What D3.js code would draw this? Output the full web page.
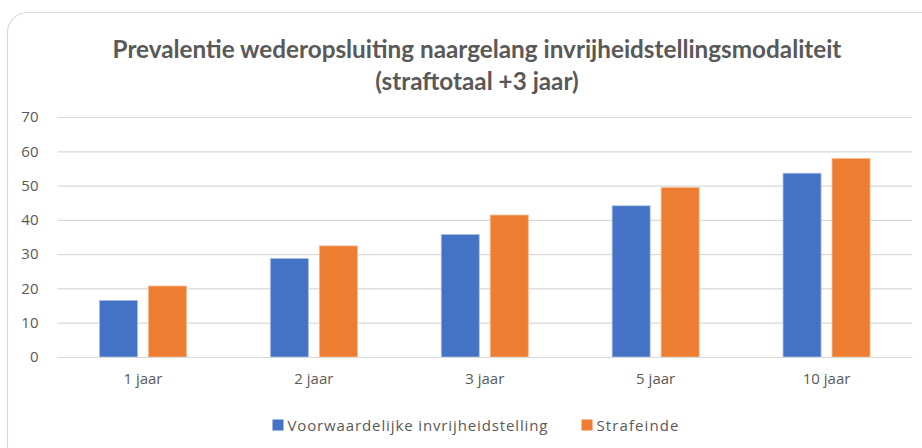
<!DOCTYPE html>
<html>
<head>
<meta charset="utf-8">
<script src="https://cdn.jsdelivr.net/npm/d3@7"></script>
<style>
  html, body { margin: 0; padding: 0; background: #ffffff; }
  svg { display: block; }
</style>
</head>
<body>
<script>
const categories = ["1 jaar", "2 jaar", "3 jaar", "5 jaar", "10 jaar"];
const seriesNames = ["Voorwaardelijke invrijheidstelling", "Strafeinde"];
const voorwaardelijk = [16.5, 28.7, 35.7, 44.1, 53.6];
const strafeinde = [20.7, 32.4, 41.4, 49.4, 57.9];
const yTicks = [0, 10, 20, 30, 40, 50, 60, 70];
const titleLines = ["Prevalentie wederopsluiting naargelang invrijheidstellingsmodaliteit", "(straftotaal +3 jaar)"];
const colors = ["#4472C4", "#ED7D31"];

const W = 922, H = 448;
const svg = d3.select("body").append("svg").attr("width", W).attr("height", H);

// chart frame
svg.append("rect").attr("x", 7.5).attr("y", 12.5).attr("width", 940).attr("height", 460)
  .attr("rx", 20).attr("fill", "#fff").attr("stroke", "#d9d9d9").attr("stroke-width", 1.2);

const textColor = "#595959";
const labelFont = "'Open Sans', 'Noto Sans', sans-serif";

// title
const titleY = [48, 80];
let titleFs = 20;
titleLines.forEach((t, i) => {
  const el = svg.append("text").attr("x", 477).attr("y", titleY[i]).attr("text-anchor", "middle")
    .attr("dominant-baseline", "central")
    .attr("font-family", "Lato, 'Open Sans', sans-serif").attr("font-weight", "bold")
    .attr("font-size", 20).attr("fill", textColor).text(t);
  if (i === 0) {
    const w = el.node().getComputedTextLength();
    titleFs = 20 * 729 / w;
  }
  el.attr("font-size", titleFs);
});

const plot = { left: 57.5, right: 912, top: 117, bottom: 357 };

const y = d3.scaleLinear().domain([0, 70]).range([plot.bottom, plot.top]);
const x0 = d3.scaleBand().domain(categories).range([plot.left, plot.right]).paddingInner(0).paddingOuter(0);
const groupW = 87;
const x1 = d3.scaleBand().domain(seriesNames).range([0, groupW]).paddingInner(11 / 49).paddingOuter(0);
const groupOffset = (x0.bandwidth() - groupW) / 2;

// gridlines
const yAxis = d3.axisLeft(y).tickValues(yTicks).tickSize(-(plot.right - plot.left)).tickPadding(19).tickFormat(d3.format("d"));
const gy = svg.append("g").attr("transform", `translate(${plot.left},0)`).call(yAxis);
gy.select(".domain").remove();
gy.selectAll(".tick line").attr("stroke", "#d9d9d9").attr("stroke-width", 1.2);
gy.selectAll(".tick text").attr("fill", textColor).attr("font-family", labelFont).attr("font-size", 15);

// bars
const data = [voorwaardelijk, strafeinde];
data.forEach((vals, si) => {
  svg.append("g").selectAll("rect").data(categories).join("rect")
    .attr("x", (c) => x0(c) + groupOffset + x1(seriesNames[si]))
    .attr("y", (c, i) => y(vals[i]))
    .attr("width", x1.bandwidth())
    .attr("height", (c, i) => y(0) - y(vals[i]))
    .attr("fill", colors[si])
    .attr("stroke", si === 0 ? "#a9bde6" : "#f5b88f")
    .attr("stroke-width", 0.8);
});

// x axis
const xAxis = d3.axisBottom(x0).tickSize(0).tickPadding(16);
const gx = svg.append("g").attr("transform", `translate(0,${plot.bottom})`).call(xAxis);
gx.select(".domain").attr("stroke", "#d9d9d9").attr("stroke-width", 1.2);
gx.selectAll(".tick text").attr("fill", textColor).attr("font-family", labelFont).attr("font-size", 15);

// legend
const legendY = 425;
const legendX = [272.5, 581.5];
const legendW = [260, 82];
seriesNames.forEach((s, i) => {
  svg.append("rect").attr("x", legendX[i]).attr("y", legendY - 5.5).attr("width", 11).attr("height", 11).attr("fill", colors[i]);
  svg.append("text").attr("x", legendX[i] + 15).attr("y", legendY).attr("dominant-baseline", "central")
    .attr("font-family", labelFont).attr("font-size", 15).attr("fill", textColor)
    .attr("textLength", legendW[i]).attr("lengthAdjust", "spacing").text(s);
});
</script>
</body>
</html>
